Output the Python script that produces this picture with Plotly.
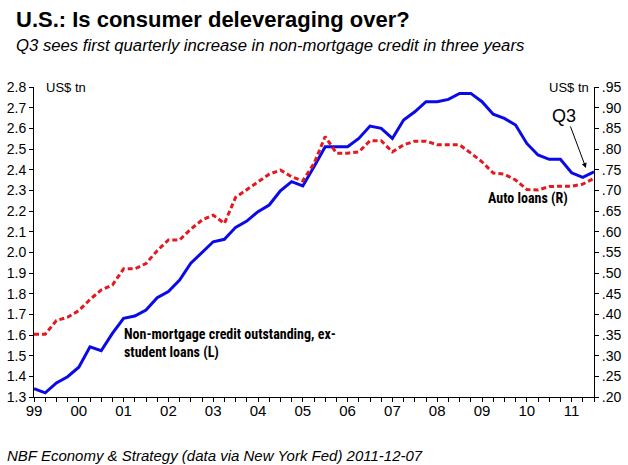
import plotly.graph_objects as go

# Quarterly data, 1999Q1 .. 2011Q3
quarters = [y + q / 4 for y in range(1999, 2012) for q in range(4)][:51]

non_mortgage_credit = [
    1.340, 1.320, 1.368, 1.398,
    1.444, 1.543, 1.524, 1.608,
    1.681, 1.692, 1.721, 1.780,
    1.810, 1.866, 1.947, 1.998,
    2.051, 2.063, 2.121, 2.151,
    2.197, 2.229, 2.298, 2.342,
    2.321, 2.414, 2.511, 2.511,
    2.511, 2.551, 2.611, 2.600,
    2.551, 2.640, 2.680, 2.729,
    2.729, 2.740, 2.769, 2.769,
    2.729, 2.668, 2.648, 2.616,
    2.527, 2.471, 2.450, 2.450,
    2.385, 2.363, 2.390,
]

auto_loans = [
    0.352, 0.352, 0.385, 0.393,
    0.409, 0.436, 0.459, 0.471,
    0.510, 0.510, 0.523, 0.554,
    0.580, 0.580, 0.606, 0.628,
    0.640, 0.620, 0.683, 0.701,
    0.721, 0.739, 0.749, 0.733,
    0.723, 0.765, 0.830, 0.790,
    0.790, 0.793, 0.820, 0.820,
    0.793, 0.810, 0.819, 0.819,
    0.810, 0.810, 0.810, 0.790,
    0.769, 0.742, 0.739, 0.725,
    0.702, 0.701, 0.709, 0.710,
    0.710, 0.715, 0.729,
]

year_ticks = list(range(1999, 2012))
year_labels = ["99", "00", "01", "02", "03", "04", "05", "06", "07", "08", "09", "10", "11"]

left_ticks = [1.3, 1.4, 1.5, 1.6, 1.7, 1.8, 1.9, 2.0, 2.1, 2.2, 2.3, 2.4, 2.5, 2.6, 2.7, 2.8]
left_labels = ["1.3", "1.4", "1.5", "1.6", "1.7", "1.8", "1.9", "2.0", "2.1", "2.2",
               "2.3", "2.4", "2.5", "2.6", "2.7", "2.8"]
right_ticks = [0.20, 0.25, 0.30, 0.35, 0.40, 0.45, 0.50, 0.55, 0.60, 0.65, 0.70, 0.75,
               0.80, 0.85, 0.90, 0.95]
right_labels = [".20", ".25", ".30", ".35", ".40", ".45", ".50", ".55", ".60", ".65",
                ".70", ".75", ".80", ".85", ".90", ".95"]

FONT = "Liberation Sans, Arial, sans-serif"
NARROW = "Liberation Sans Narrow, Arial Narrow, Roboto Condensed, Liberation Sans, Arial"

fig = go.Figure()
fig.add_trace(go.Scatter(
    x=quarters, y=non_mortgage_credit, mode="lines", yaxis="y",
    line=dict(color="#0a0ae6", width=3), showlegend=False, hoverinfo="skip"))
fig.add_trace(go.Scatter(
    x=quarters, y=auto_loans, mode="lines", yaxis="y2",
    line=dict(color="#e3191f", width=3, dash="5px,3px"), showlegend=False, hoverinfo="skip"))

axis_common = dict(showgrid=False, zeroline=False, showline=True, linecolor="black",
                   linewidth=1, ticks="outside", ticklen=4, tickcolor="black",
                   automargin=False)

fig.update_layout(
    width=628, height=465,
    margin=dict(l=34, r=34, t=87, b=68, autoexpand=False),
    paper_bgcolor="white", plot_bgcolor="white",
    xaxis=dict(range=[1999, 2011.5], tickvals=year_ticks, ticktext=year_labels,
               minor=dict(dtick=0.25, tick0=1999, ticks="outside", ticklen=4, tickcolor="black"),
               tickfont=dict(family=FONT, size=15, color="black"), ticklabelstandoff=-4,
               **axis_common),
    yaxis=dict(range=[1.3, 2.8], tickvals=left_ticks, ticktext=left_labels,
               tickfont=dict(family=FONT, size=14, color="black"), **axis_common),
    yaxis2=dict(range=[0.20, 0.95], tickvals=right_ticks, ticktext=right_labels,
                tickfont=dict(family=FONT, size=14, color="black"),
                overlaying="y", side="right", **axis_common),
)

annotations = [
    dict(text="<b>U.S.: Is consumer deleveraging over?</b>", xref="paper", yref="paper",
         x=-0.0357, y=1.219, xanchor="left", yanchor="middle", showarrow=False,
         font=dict(family=FONT, size=22, color="black")),
    dict(text="<i>Q3 sees first quarterly increase in non-mortgage credit in three years</i>",
         xref="paper", yref="paper", x=-0.0357, y=1.135, xanchor="left", yanchor="middle",
         showarrow=False, font=dict(family=FONT, size=16.7, color="black")),
    dict(text="<i>NBF Economy &amp; Strategy (data via New York Fed) 2011-12-07</i>",
         xref="paper", yref="paper", x=-0.052, y=-0.19, xanchor="left", yanchor="middle",
         showarrow=False, font=dict(family=FONT, size=15, color="black")),
    dict(text="US$ tn", xref="paper", yref="paper", x=0.018, y=1.0, xanchor="left",
         yanchor="middle", showarrow=False, font=dict(family=FONT, size=13, color="black")),
    dict(text="US$ tn", xref="paper", yref="paper", x=0.9946, y=1.0, xanchor="right",
         yanchor="middle", showarrow=False, font=dict(family=FONT, size=13, color="black")),
    dict(text="<b>Non-mortgage credit outstanding, ex-<br>student loans (L)</b>",
         xref="x", yref="y", x=2000.96, y=1.561, xanchor="left", yanchor="middle",
         align="left", showarrow=False, font=dict(family=NARROW, size=14, color="black")),
    dict(text="<b>Auto loans (R)</b>", xref="x", yref="y2", x=2009.10, y=0.681,
         xanchor="left", yanchor="middle", showarrow=False,
         font=dict(family=NARROW, size=14, color="black")),
    dict(text="Q3", xref="x", yref="y2", x=2010.83, y=0.880, xanchor="center",
         yanchor="middle", showarrow=False, font=dict(family=FONT, size=18, color="black")),
    dict(text="", xref="x", yref="y2", x=2011.32, y=0.754, ax=-16, ay=-43,
         showarrow=True, arrowhead=2, arrowsize=1, arrowwidth=1, arrowcolor="black"),
]
fig.update_layout(annotations=annotations)

fig.write_html("out.html", config={"displayModeBar": False},
               post_script="document.body.style.margin='0';")
